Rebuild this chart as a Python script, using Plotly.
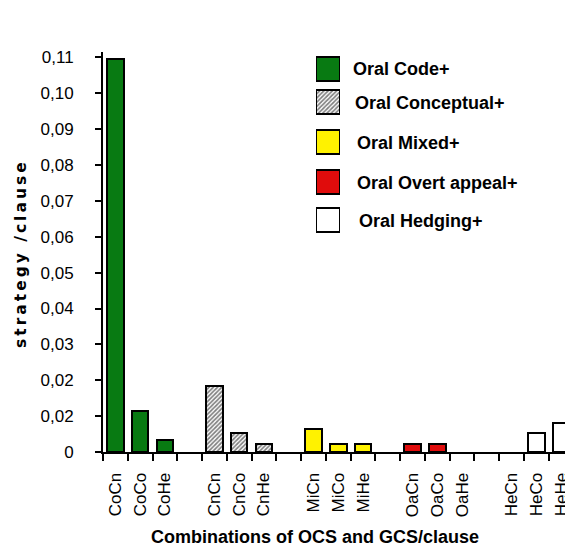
import plotly.graph_objects as go

# data
groups = ["Oral Code+", "Oral Conceptual+", "Oral Mixed+", "Oral Overt appeal+", "Oral Hedging+"]
labels = [
    ["CoCn", "CoCo", "CoHe"],
    ["CnCn", "CnCo", "CnHe"],
    ["MiCn", "MiCo", "MiHe"],
    ["OaCn", "OaCo", "OaHe"],
    ["HeCn", "HeCo", "HeHe"],
]
values = [
    [0.1095, 0.0115, 0.0033],
    [0.0185, 0.0052, 0.0022],
    [0.0063, 0.0022, 0.0022],
    [0.0022, 0.0022, 0.0],
    [0.0, 0.0052, 0.0080],
]
y_ticks = [0, 0.01, 0.02, 0.03, 0.04, 0.05, 0.06, 0.07, 0.08, 0.09, 0.10, 0.11]
y_ticktext = ["0", "0,02", "0,02", "0,03", "0,04", "0,05", "0,06", "0,07", "0,08", "0,09", "0,10", "0,11"]

fills = ["#087a12", "white", "#fff200", "#e00c0c", "white"]
hatched = [False, True, False, False, False]

FONT = "Liberation Sans, Arial, sans-serif"

# page has an 8px body margin, figure fills the rest of the window
W, H = 565, 541
L, T, R, B = 95, 44, 0, 97
PW = W - L - R
PH = H - T - B


def px(X):
    # reference-window x pixel -> paper x
    return (X - 8 - L) / PW


def py(Y):
    # reference-window y pixel -> paper y
    return (H - B + 8 - Y) / PH


def bar_marker(g, vals):
    m = dict(color=fills[g], line=dict(color="black", width=[2 if v > 0 else 0 for v in vals]))
    if hatched[g]:
        m["pattern"] = dict(shape="/", fgcolor="black", bgcolor="white", size=3, solidity=0.55)
    return m


fig = go.Figure()

tickvals, ticktext = [], []
for g, name in enumerate(groups):
    xs = [4 * g + i for i in range(3)]
    tickvals += xs
    ticktext += labels[g]
    fig.add_trace(go.Bar(x=xs, y=values[g], width=0.67, marker=bar_marker(g, values[g]),
                         name=name, showlegend=False))

# legend boxes drawn as bars on a hidden axis measured in window pixels
leg_y = [68.5, 102, 142, 182, 220]
leg_tx = [351, 353, 355, 355, 357]
for g, name in enumerate(groups):
    fig.add_trace(go.Bar(x=[1], y=[leg_y[g]], width=24, orientation="h", marker=bar_marker(g, [1]),
                         xaxis="x2", yaxis="y2", showlegend=False, hoverinfo="skip"))
    fig.add_annotation(x=px(leg_tx[g]), xref="paper", y=py(leg_y[g] + 1), yref="paper", text="<b>%s</b>" % name,
                       showarrow=False, xanchor="left", yanchor="middle",
                       font=dict(family=FONT, size=18, color="black"))

fig.add_annotation(x=px(10), xref="paper", y=py(254), yref="paper",
                   text="<span style='letter-spacing:3px'><b>strategy /clause</b></span>",
                   textangle=-90, showarrow=False, font=dict(family="DejaVu Sans", size=15.5, color="black"))
fig.add_annotation(x=px(315), xref="paper", y=py(549), yref="paper", text="<b>Combinations of OCS and GCS/clause</b>",
                   showarrow=False, font=dict(family=FONT, size=18, color="black"))

fig.update_layout(
    width=W, height=H,
    margin=dict(l=L, r=R, t=T, b=B),
    plot_bgcolor="rgba(0,0,0,0)", paper_bgcolor="white",
    bargap=0,
    font=dict(family=FONT, color="black"),
    xaxis=dict(
        range=[-0.5, 18.48], tickmode="array", tickvals=tickvals, ticktext=ticktext,
        tickangle=-90, ticks="outside", ticklen=12, tickcolor="rgba(0,0,0,0)",
        tickfont=dict(size=17, family=FONT), showline=True, linecolor="black", linewidth=2,
        showgrid=False, zeroline=False,
        minor=dict(tickmode="array", tickvals=[v - 0.5 for v in range(20)], ticks="outside",
                   ticklen=7, tickwidth=2, tickcolor="black", showgrid=False),
    ),
    yaxis=dict(
        range=[0, 0.1115], tickmode="array", tickvals=y_ticks, ticktext=y_ticktext,
        ticks="outside", ticklen=6, tickwidth=2, tickcolor="black", ticklabelstandoff=18,
        tickfont=dict(size=17, family=FONT), showline=True, linecolor="black", linewidth=2,
        showgrid=False, zeroline=False,
    ),
    xaxis2=dict(domain=[px(316), px(340)], range=[0, 1], visible=False, anchor="y2"),
    yaxis2=dict(domain=[0, 1], range=[452, 52], visible=False, anchor="x2", overlaying="y"),
)

fig.write_html("out.html")
